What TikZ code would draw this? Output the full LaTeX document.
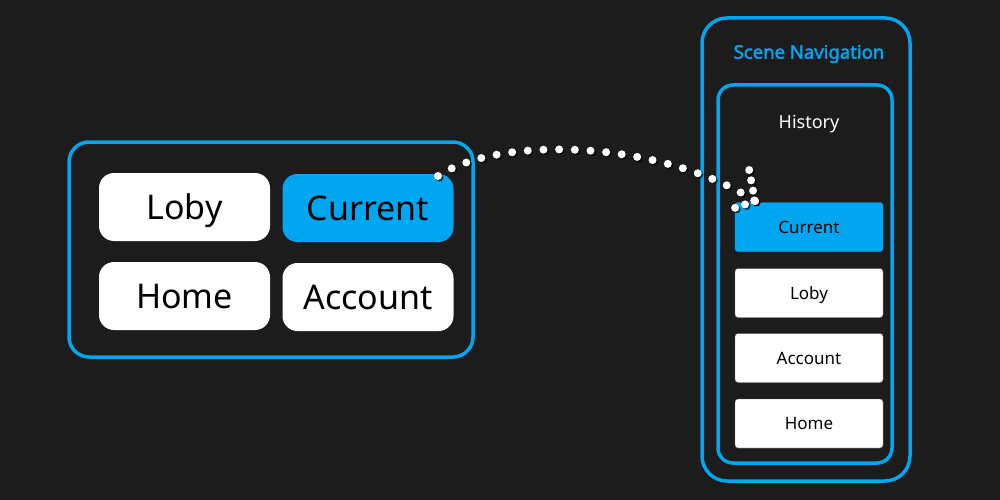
\documentclass[tikz,border=0pt]{standalone}
\usepackage{fontspec}
\setmainfont{Noto Sans}
\newfontfamily\navtitlefont[FakeBold=2.2]{Noto Sans}
\definecolor{bg}{RGB}{28,28,28}
\definecolor{navblue}{RGB}{0,166,240}
\begin{document}
\begin{tikzpicture}[x=1pt,y=-1pt,
  frame/.style={draw=navblue, line width=3.5pt, fill=none, inner sep=0pt},
  bigbtn/.style={fill=white, rounded corners=15pt, minimum width=171pt, minimum height=68pt, inner sep=0pt,
    font=\fontsize{34}{40}\selectfont, text height=24.3pt, text depth=0pt, text=black},
  smallbtn/.style={fill=white, draw=black!60, line width=0.4pt, rounded corners=3pt, minimum width=148pt, minimum height=49pt, inner sep=0pt,
    font=\fontsize{17}{20}\selectfont, text height=12.1pt, text depth=0pt, text=black},
  active/.style={fill=navblue, draw=navblue},
  dotline/.style={white, line width=8pt, line cap=round, dash pattern=on 0pt off 15.7pt},
  dotarm/.style={white, line width=8pt, line cap=round, dash pattern=on 0pt off 10.5pt},
  dotshadow/.style={black, opacity=0.7, transform canvas={xshift=1.5pt,yshift=-1.5pt}}
]
\useasboundingbox[fill=bg] (0,0) rectangle (1000,500);

% left panel
\node[frame, rounded corners=20pt, minimum width=404pt, minimum height=215pt] (left) at (271,249.5) {};
\node[bigbtn] (loby1) at (184.5,207) {Loby};
\node[bigbtn, fill=navblue] (cur1) at (368,208) {Current};
\node[bigbtn] (home1) at (184.5,296) {Home};
\node[bigbtn] (acc1) at (368,297) {Account};

% right panel
\node[frame, rounded corners=25pt, minimum width=208pt, minimum height=463pt] (nav) at (806,249.5) {};
\node[text=navblue, font=\navtitlefont\fontsize{18.5}{22}\selectfont, text height=13.2pt, text depth=0pt, inner sep=0pt] (navtitle) at (809,52) {Scene Navigation};
\node[frame, rounded corners=15pt, minimum width=174pt, minimum height=378pt] (hist) at (805,274) {};
\node[text=white, font=\fontsize{18}{21}\selectfont, text height=12.8pt, text depth=0pt, inner sep=0pt] (histtitle) at (809,122) {History};
\node[smallbtn, active] (cur2) at (809,227) {Current};
\node[smallbtn] (loby2) at (809,293) {Loby};
\node[smallbtn] (acc2) at (809,358) {Account};
\node[smallbtn] (home2) at (809,423.5) {Home};

% dotted connector
\coordinate (s) at (438,176);
\coordinate (e) at (755,201);
\coordinate (a1) at (749,169);
\coordinate (a2) at (726,211);
\draw[dotline, dotshadow] (s) .. controls (500,135) and (660,140) .. (e);
\draw[dotarm, dotshadow] (e) -- (a1);
\draw[dotarm, dotshadow] (e) -- (a2);
\draw[dotline] (s) .. controls (500,135) and (660,140) .. (e);
\draw[dotarm] (e) -- (a1);
\draw[dotarm] (e) -- (a2);
\end{tikzpicture}
\end{document}
